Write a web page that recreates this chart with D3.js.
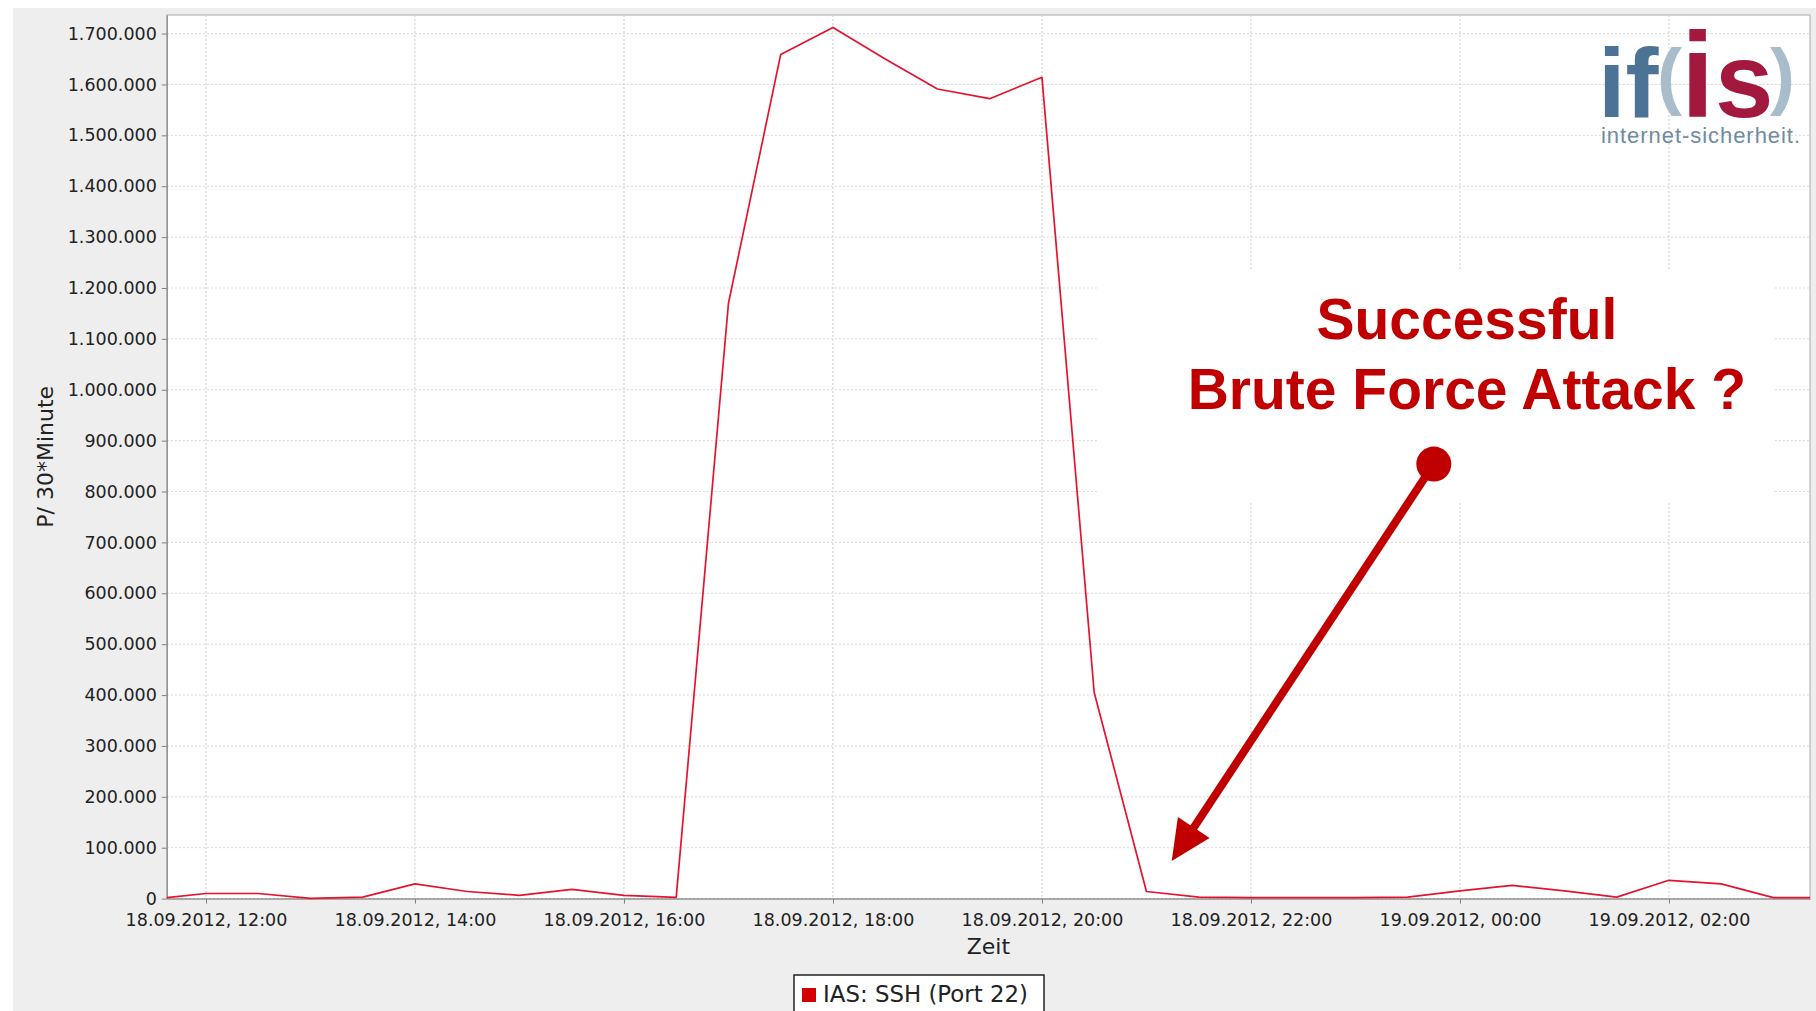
<!DOCTYPE html>
<html>
<head>
<meta charset="utf-8">
<script src="https://cdn.jsdelivr.net/npm/d3@7/dist/d3.min.js"></script>
<style>
    html, body { margin: 0; padding: 0; background: #fff; }
    svg { display: block; }
    .axis text { font-family: "DejaVu Sans", sans-serif; font-size: 17.5px; fill: #222; }
    .axis path, .axis line { stroke: #808080; }
</style>
</head>
<body>
<div id="chart"></div>
<script>
// Half-hour packet counts (P / 30*Minute)
const times = [
    "2012-09-18 11:37:30", "2012-09-18 12:00:00", "2012-09-18 12:30:00", "2012-09-18 13:00:00",
    "2012-09-18 13:30:00", "2012-09-18 14:00:00", "2012-09-18 14:30:00", "2012-09-18 15:00:00",
    "2012-09-18 15:30:00", "2012-09-18 16:00:00", "2012-09-18 16:30:00", "2012-09-18 17:00:00",
    "2012-09-18 17:30:00", "2012-09-18 18:00:00", "2012-09-18 18:30:00", "2012-09-18 19:00:00",
    "2012-09-18 19:30:00", "2012-09-18 20:00:00", "2012-09-18 20:30:00", "2012-09-18 21:00:00",
    "2012-09-18 21:30:00", "2012-09-18 22:00:00", "2012-09-18 22:30:00", "2012-09-18 23:00:00",
    "2012-09-18 23:30:00", "2012-09-19 00:00:00", "2012-09-19 00:30:00", "2012-09-19 01:00:00",
    "2012-09-19 01:30:00", "2012-09-19 02:00:00", "2012-09-19 02:30:00", "2012-09-19 03:00:00",
    "2012-09-19 03:21:00"
];
const values = [
    2000, 10000, 10000, 500,
    3000, 29000, 14000, 6500,
    18000, 6500, 2500, 1170000,
    1659000, 1712000, 1650000, 1591000,
    1572000, 1614000, 405000, 14000,
    3000, 2000, 2000, 2000,
    3000, 15000, 26000, 15000,
    3000, 36000, 29000, 2000,
    2000
];
const yTicks = [0, 100000, 200000, 300000, 400000, 500000, 600000, 700000, 800000,
    900000, 1000000, 1100000, 1200000, 1300000, 1400000, 1500000, 1600000, 1700000];
const seriesName = "IAS: SSH (Port 22)";
const xTitle = "Zeit";
const yTitle = "P/ 30*Minute";
const noteLines = ["Successful", "Brute Force Attack ?"];

// annotation anchors in data space
const noteBox = { from: "2012-09-18 20:32:00", to: "2012-09-19 03:00:00", top: 1235000, bottom: 778000 };
const noteText = { at: "2012-09-19 00:04:00", lines: [1100000, 962000] };
const arrowFrom = { at: "2012-09-18 23:45:00", value: 854000 };
const arrowTo = { at: "2012-09-18 21:14:30", value: 74000 };

const W = 1816, H = 1011;
const plot = { left: 166.8, right: 1810, top: 15, bottom: 898.6 };
const yMax = 1736500;

const parse = d3.timeParse("%Y-%m-%d %H:%M:%S");
const data = times.map((t, i) => ({ t: parse(t), v: values[i] }));

const de = d3.formatLocale({ decimal: ",", thousands: ".", grouping: [3], currency: ["", " €"] });
const fmtY = de.format(",d");
const fmtX = d3.timeFormat("%d.%m.%Y, %H:%M");

const x = d3.scaleTime()
    .domain(d3.extent(data, d => d.t))
    .range([plot.left, plot.right]);
const y = d3.scaleLinear()
    .domain([0, yMax])
    .range([plot.bottom, plot.top]);

const svg = d3.select('#chart').append('svg')
    .attr('width', W)
    .attr('height', H);

// chart background
svg.append('rect').attr('x', 13).attr('y', 8).attr('width', W - 13).attr('height', H - 8).attr('fill', '#eeeeee');
svg.append('rect')
    .attr('x', plot.left).attr('y', plot.top)
    .attr('width', plot.right - plot.left).attr('height', plot.bottom - plot.top)
    .attr('fill', '#fff').attr('stroke', '#a8a8a8').attr('stroke-width', 1);

const xTicks = x.ticks(d3.timeHour.every(2));

// grid
svg.append('g').selectAll('line').data(yTicks).enter().append('line')
    .attr('x1', plot.left).attr('x2', plot.right)
    .attr('y1', d => y(d)).attr('y2', d => y(d))
    .attr('stroke', '#d6d6d6').attr('stroke-dasharray', '2,2');
svg.append('g').selectAll('line').data(xTicks).enter().append('line')
    .attr('x1', d => x(d)).attr('x2', d => x(d))
    .attr('y1', plot.top).attr('y2', plot.bottom)
    .attr('stroke', '#cccccc').attr('stroke-dasharray', '2,2');

// axes
svg.append('g')
    .attr('class', 'axis')
    .attr('transform', `translate(0,${plot.bottom})`)
    .call(d3.axisBottom(x).tickValues(xTicks).tickFormat(fmtX).tickSize(5).tickPadding(10).tickSizeOuter(0));
svg.append('g')
    .attr('class', 'axis')
    .attr('transform', `translate(${plot.left},0)`)
    .call(d3.axisLeft(y).tickValues(yTicks).tickFormat(fmtY).tickSize(5).tickPadding(5).tickSizeOuter(0));

// axis titles
svg.append('text')
    .attr('x', (plot.left + plot.right) / 2).attr('y', 954)
    .attr('text-anchor', 'middle')
    .style('font-family', '"DejaVu Sans", sans-serif').style('font-size', '22px').attr('fill', '#222')
    .text(xTitle);
svg.append('text')
    .attr('transform', `translate(53,${(plot.top + plot.bottom) / 2}) rotate(-90)`)
    .attr('text-anchor', 'middle')
    .style('font-family', '"DejaVu Sans", sans-serif').style('font-size', '22px').attr('fill', '#222')
    .text(yTitle);

// series line
const line = d3.line().x(d => x(d.t)).y(d => y(d.v));
svg.append('path')
    .datum(data)
    .attr('d', line)
    .attr('fill', 'none')
    .attr('stroke', '#e5132f')
    .attr('stroke-width', 1.7)
    .attr('stroke-linejoin', 'round');

// legend
const lg = svg.append('g');
lg.append('rect').attr('x', 794).attr('y', 975).attr('width', 250).attr('height', 45)
    .attr('fill', '#fff').attr('stroke', '#222').attr('stroke-width', 1.5);
lg.append('rect').attr('x', 802).attr('y', 988).attr('width', 14).attr('height', 14).attr('fill', '#d40000');
lg.append('text').attr('x', 823).attr('y', 1002)
    .style('font-family', '"DejaVu Sans", sans-serif').style('font-size', '22.5px').attr('fill', '#222')
    .attr('textLength', 205).attr('lengthAdjust', 'spacingAndGlyphs')
    .text(seriesName);

// logo, one text element with positioned pieces
const logoParts = [
    { t: 'if', x: 1598, y: 117, size: 99, col: '#4b7395', bold: true, ls: 0 },
    { t: '(', x: 1657, y: 101, size: 75, col: '#a8bccc', bold: true, ls: 0 },
    { t: 'i', x: 1681, y: 117, size: 120, col: '#a3183e', bold: true, ls: 0 },
    { t: 's', x: 1715, y: 117, size: 105, col: '#a3183e', bold: true, ls: 0 },
    { t: ')', x: 1770, y: 101, size: 75, col: '#a8bccc', bold: true, ls: 0 },
    { t: 'internet-sicherheit.', x: 1601, y: 142.5, size: 22, col: '#6f8ba0', bold: false, ls: 0.95 }
];
svg.append('text')
    .style('font-family', '"Liberation Sans", Arial, sans-serif')
    .selectAll('tspan').data(logoParts).enter().append('tspan')
    .attr('x', d => d.x).attr('y', d => d.y)
    .style('font-size', d => d.size + 'px')
    .style('font-weight', d => d.bold ? 'bold' : 'normal')
    .style('letter-spacing', d => d.ls + 'px')
    .attr('fill', d => d.col)
    .text(d => d.t);

// annotation
svg.append('rect')
    .attr('x', x(parse(noteBox.from))).attr('y', y(noteBox.top))
    .attr('width', x(parse(noteBox.to)) - x(parse(noteBox.from)))
    .attr('height', y(noteBox.bottom) - y(noteBox.top))
    .attr('fill', '#fff');
svg.append('g').selectAll('text').data(noteLines).enter().append('text')
    .attr('x', x(parse(noteText.at)))
    .attr('y', (d, i) => y(noteText.lines[i]))
    .attr('text-anchor', 'middle')
    .style('font-family', '"Liberation Sans", Arial, sans-serif')
    .style('font-weight', 'bold').style('font-size', '57px')
    .attr('fill', '#c00000')
    .text(d => d);

const ax0 = x(parse(arrowFrom.at)), ay0 = y(arrowFrom.value);
const ax1 = x(parse(arrowTo.at)), ay1 = y(arrowTo.value);
const len = Math.hypot(ax1 - ax0, ay1 - ay0);
const ux = (ax1 - ax0) / len, uy = (ay1 - ay0) / len;
const headLen = 40, headHalf = 19;
const bx = ax1 - ux * headLen, by = ay1 - uy * headLen;
svg.append('line')
    .attr('x1', ax0).attr('y1', ay0).attr('x2', bx + ux * 2).attr('y2', by + uy * 2)
    .attr('stroke', '#c00000').attr('stroke-width', 8);
svg.append('circle').attr('cx', ax0).attr('cy', ay0).attr('r', 17.5).attr('fill', '#c00000');
svg.append('polygon')
    .attr('points', [
        [ax1, ay1],
        [bx - uy * headHalf, by + ux * headHalf],
        [bx + uy * headHalf, by - ux * headHalf]
    ].map(p => p.join(',')).join(' '))
    .attr('fill', '#c00000');
</script>
</body>
</html>
